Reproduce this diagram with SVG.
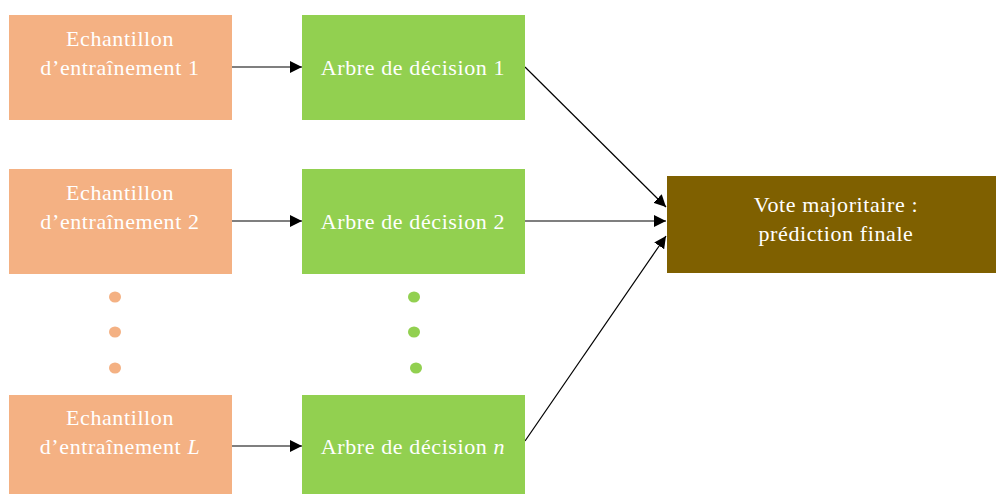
<svg xmlns="http://www.w3.org/2000/svg" width="996" height="494" viewBox="0 0 996 494">
<defs>
<style>
.o{fill:#F4B183}
.g{fill:#92D050}
.b{fill:#7F6000}
text{font-family:"Liberation Serif","Times New Roman",serif;font-size:22px;letter-spacing:0.6px;fill:#FFFFFF;text-anchor:middle}
.c{stroke:#000;stroke-width:1.2;fill:none;marker-end:url(#ah)}
</style>
<marker id="ah" viewBox="0 0 10 10" refX="10" refY="5" markerWidth="12" markerHeight="12" markerUnits="userSpaceOnUse" orient="auto">
<path d="M0,0 L10,5 L0,10 z" fill="#000"/>
</marker>
</defs>
<rect width="996" height="494" fill="#fff"/>
<g id="connectors">
<line class="c" x1="232" y1="67" x2="302" y2="67"/>
<line class="c" x1="232" y1="221" x2="302" y2="221"/>
<line class="c" x1="232" y1="446" x2="302" y2="446"/>
<line class="c" x1="525" y1="67" x2="666" y2="207"/>
<line class="c" x1="525" y1="221" x2="666" y2="221"/>
<line class="c" x1="525" y1="441" x2="666" y2="236"/>
</g>
<g id="sample1"><rect class="o" x="9" y="15" width="223" height="105"/><text x="120" y="46">Echantillon</text><text x="120" y="75">d’entraînement 1</text></g>
<g id="sample2"><rect class="o" x="9" y="169" width="223" height="105"/><text x="120" y="200">Echantillon</text><text x="120" y="229">d’entraînement 2</text></g>
<g id="sampleL"><rect class="o" x="9" y="395" width="223" height="99"/><text x="120" y="425">Echantillon</text><text x="120" y="454">d’entraînement <tspan font-style="italic">L</tspan></text></g>
<g id="tree1"><rect class="g" x="302" y="15" width="223" height="105"/><text x="413" y="75">Arbre de décision 1</text></g>
<g id="tree2"><rect class="g" x="302" y="169" width="223" height="105"/><text x="413" y="229">Arbre de décision 2</text></g>
<g id="treen"><rect class="g" x="302" y="395" width="223" height="99"/><text x="413" y="454">Arbre de décision <tspan font-style="italic">n</tspan></text></g>
<g id="vote"><rect class="b" x="667" y="176" width="329" height="97"/><text x="836" y="212">Vote majoritaire :</text><text x="836" y="241">prédiction finale</text></g>
<g id="dots">
<ellipse class="o" cx="115" cy="297" rx="6" ry="5.5"/>
<ellipse class="o" cx="115" cy="332" rx="6" ry="5.5"/>
<ellipse class="o" cx="115" cy="368" rx="6" ry="5.5"/>
<ellipse class="g" cx="414" cy="297" rx="6" ry="5.5"/>
<ellipse class="g" cx="414" cy="332" rx="6" ry="5.5"/>
<ellipse class="g" cx="416" cy="368" rx="6" ry="5.5"/>
</g>
</svg>
